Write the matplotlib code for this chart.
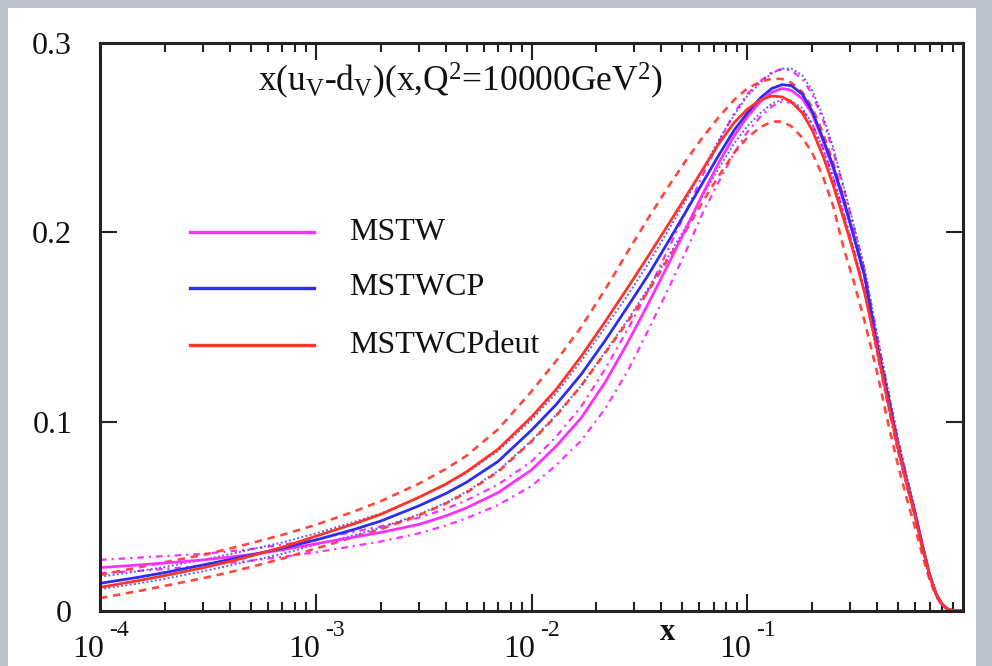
import matplotlib
matplotlib.use("Agg")
import matplotlib.pyplot as plt
from matplotlib.ticker import LogLocator, FixedLocator, NullFormatter

plt.rcParams['font.family'] = ['Liberation Serif', 'DejaVu Serif']
plt.rcParams['mathtext.fontset'] = 'custom'
plt.rcParams['mathtext.rm'] = 'Liberation Serif'
plt.rcParams['mathtext.it'] = 'Liberation Serif:italic'

# x grid shared by all curves
x = [1e-4, 1.5e-4, 2e-4, 3e-4, 4e-4, 5e-4, 7e-4,
     1e-3, 1.5e-3, 2e-3, 3e-3, 4e-3, 5e-3, 7e-3,
     1e-2, 1.3e-2, 1.7e-2, 2.2e-2, 2.8e-2, 3.5e-2, 4.3e-2, 5.2e-2, 6.2e-2, 7.4e-2, 8.7e-2,
     0.1, 0.115, 0.13, 0.145, 0.16, 0.18, 0.2, 0.225, 0.25, 0.28, 0.31, 0.35, 0.4, 0.45,
     0.5, 0.55, 0.6, 0.65, 0.7, 0.75, 0.8, 0.85, 0.9, 0.95, 1.0]

# MSTW: central value and error band edges
mstw = [0.0229, 0.0243, 0.0253, 0.0270, 0.0285, 0.0298, 0.0323,
        0.0355, 0.0390, 0.0415, 0.0457, 0.0502, 0.0545, 0.0625,
        0.0745, 0.0870, 0.1020, 0.1210, 0.1420, 0.1630, 0.1830, 0.2020, 0.2200, 0.2370, 0.2510,
        0.2610, 0.2690, 0.2740, 0.2760, 0.2750, 0.2705, 0.2625, 0.2480, 0.2340, 0.2160, 0.1990, 0.1770, 0.1400, 0.1130,
        0.0870, 0.0680, 0.0510, 0.0340, 0.0190, 0.0090, 0.0035, 0.0010, 0.0002, 0.0, 0.0]
mstw_hi = [0.0270, 0.0282, 0.0290, 0.0302, 0.0315, 0.0327, 0.0350,
           0.0380, 0.0418, 0.0447, 0.0493, 0.0539, 0.0585, 0.0668,
           0.0790, 0.0920, 0.1080, 0.1280, 0.1490, 0.1700, 0.1910, 0.2110, 0.2300, 0.2480, 0.2630,
           0.2730, 0.2800, 0.2845, 0.2862, 0.2855, 0.2810, 0.2730, 0.2590, 0.2430, 0.2230, 0.2040, 0.1800, 0.1450, 0.1160,
           0.0900, 0.0700, 0.0525, 0.0345, 0.0198, 0.0093, 0.0036, 0.0010, 0.0002, 0.0, 0.0]
mstw_lo = [0.0200, 0.0212, 0.0222, 0.0240, 0.0254, 0.0266, 0.0286,
           0.0310, 0.0343, 0.0367, 0.0410, 0.0451, 0.0490, 0.0560,
           0.0660, 0.0770, 0.0900, 0.1070, 0.1270, 0.1490, 0.1700, 0.1900, 0.2100, 0.2270, 0.2420,
           0.2530, 0.2610, 0.2665, 0.2690, 0.2685, 0.2645, 0.2570, 0.2440, 0.2290, 0.2100, 0.1920, 0.1690, 0.1360, 0.1080,
           0.0840, 0.0655, 0.0490, 0.0320, 0.0180, 0.0085, 0.0032, 0.0009, 0.0002, 0.0, 0.0]

# MSTWCP: central value and error band edges
cp = [0.0146, 0.0178, 0.0203, 0.0243, 0.0272, 0.0295, 0.0332,
      0.0375, 0.0430, 0.0475, 0.0555, 0.0620, 0.0680, 0.0790,
      0.0955, 0.1090, 0.1250, 0.1430, 0.1610, 0.1780, 0.1950, 0.2110, 0.2260, 0.2410, 0.2540,
      0.2630, 0.2710, 0.2760, 0.2780, 0.2775, 0.2730, 0.2640, 0.2490, 0.2350, 0.2170, 0.1990, 0.1770, 0.1400, 0.1130,
      0.0870, 0.0680, 0.0510, 0.0340, 0.0190, 0.0090, 0.0035, 0.0010, 0.0002, 0.0, 0.0]
cp_hi = [0.0180, 0.0210, 0.0233, 0.0270, 0.0300, 0.0325, 0.0362,
         0.0410, 0.0470, 0.0515, 0.0600, 0.0668, 0.0730, 0.0845,
         0.1010, 0.1150, 0.1320, 0.1500, 0.1670, 0.1840, 0.2010, 0.2170, 0.2330, 0.2490, 0.2620,
         0.2720, 0.2790, 0.2840, 0.2865, 0.2865, 0.2830, 0.2750, 0.2610, 0.2450, 0.2240, 0.2050, 0.1810, 0.1460, 0.1170,
         0.0910, 0.0710, 0.0535, 0.0350, 0.0200, 0.0095, 0.0037, 0.0011, 0.0002, 0.0, 0.0]
cp_lo = [0.0115, 0.0145, 0.0170, 0.0210, 0.0240, 0.0265, 0.0302,
         0.0350, 0.0400, 0.0440, 0.0510, 0.0572, 0.0630, 0.0740,
         0.0900, 0.1035, 0.1190, 0.1370, 0.1540, 0.1710, 0.1870, 0.2030, 0.2190, 0.2340, 0.2470,
         0.2560, 0.2630, 0.2680, 0.2700, 0.2695, 0.2655, 0.2575, 0.2440, 0.2290, 0.2100, 0.1920, 0.1690, 0.1360, 0.1080,
         0.0840, 0.0655, 0.0490, 0.0320, 0.0180, 0.0085, 0.0032, 0.0009, 0.0002, 0.0, 0.0]

# MSTWCPdeut: central value and error band edges
deut = [0.0125, 0.0160, 0.0187, 0.0228, 0.0262, 0.0290, 0.0337,
        0.0395, 0.0460, 0.0510, 0.0600, 0.0670, 0.0735, 0.0855,
        0.1025, 0.1170, 0.1345, 0.1530, 0.1710, 0.1880, 0.2040, 0.2190, 0.2330, 0.2470, 0.2580,
        0.2650, 0.2700, 0.2720, 0.2715, 0.2690, 0.2630, 0.2540, 0.2400, 0.2250, 0.2070, 0.1900, 0.1680, 0.1380, 0.1100,
        0.0860, 0.0670, 0.0500, 0.0330, 0.0190, 0.0090, 0.0035, 0.0010, 0.0002, 0.0, 0.0]
deut_hi = [0.0190, 0.0230, 0.0258, 0.0296, 0.0330, 0.0358, 0.0402,
           0.0455, 0.0525, 0.0580, 0.0672, 0.0750, 0.0820, 0.0960,
           0.1160, 0.1320, 0.1500, 0.1700, 0.1900, 0.2080, 0.2240, 0.2380, 0.2500, 0.2610, 0.2700,
           0.2760, 0.2795, 0.2812, 0.2810, 0.2790, 0.2740, 0.2660, 0.2520, 0.2370, 0.2180, 0.1990, 0.1760, 0.1420, 0.1130,
           0.0880, 0.0690, 0.0515, 0.0340, 0.0195, 0.0092, 0.0036, 0.0010, 0.0002, 0.0, 0.0]
deut_lo = [0.0068, 0.0105, 0.0133, 0.0173, 0.0205, 0.0232, 0.0277,
           0.0330, 0.0390, 0.0432, 0.0505, 0.0567, 0.0625, 0.0735,
           0.0895, 0.1030, 0.1190, 0.1365, 0.1530, 0.1695, 0.1860, 0.2010, 0.2160, 0.2300, 0.2420,
           0.2500, 0.2555, 0.2585, 0.2585, 0.2560, 0.2500, 0.2420, 0.2290, 0.2140, 0.1915, 0.1750, 0.1530, 0.1260, 0.0990,
           0.0770, 0.0590, 0.0440, 0.0290, 0.0165, 0.0078, 0.0030, 0.0008, 0.0001, 0.0, 0.0]

labels = ['MSTW', 'MSTWCP', 'MSTWCPdeut']
colors = ['#ff30ff', '#2c2cf2', '#ff3428']

x_ticks = [1e-4, 1e-3, 1e-2, 1e-1]
x_exponents = ['-4', '-3', '-2', '-1']
y_ticks = [0, 0.1, 0.2, 0.3]
y_ticklabels = ['0', '0.1', '0.2', '0.3']

W, H = 992, 666
fig = plt.figure(figsize=(W / 100, H / 100), dpi=100)
fig.patch.set_facecolor('#bcc3cc')

# white page behind the plot
page = fig.add_axes([8 / W, 0, (976 - 8) / W, (666 - 8) / H], zorder=-5)
page.set_facecolor('white')
page.set_xticks([])
page.set_yticks([])
for sp in page.spines.values():
    sp.set_visible(False)

ax = fig.add_axes([100 / W, (666 - 611) / H, 863 / W, 568 / H])
ax.set_facecolor('white')
ax.set_xscale('log')
ax.set_xlim(1e-4, 1.0)
ax.set_ylim(0, 0.3)

# error band edges
dashdot = (0, (3, 2.2, 1, 2.2))
ax.plot(x, mstw_hi, color=colors[0], lw=1.6, linestyle=dashdot)
ax.plot(x, mstw_lo, color=colors[0], lw=1.6, linestyle=dashdot)
ax.plot(x, cp_hi, color=colors[1], lw=1.4, alpha=0.75, linestyle=(0, (1, 1.2)))
ax.plot(x, cp_lo, color=colors[1], lw=1.4, alpha=0.75, linestyle=(0, (1, 1.2)))
ax.plot(x, deut_hi, color=colors[2], lw=1.9, alpha=0.9, linestyle=(0, (2.8, 2.2)))
ax.plot(x, deut_lo, color=colors[2], lw=1.9, alpha=0.9, linestyle=(0, (2.8, 2.2)))
# central values
ax.plot(x, mstw, color=colors[0], lw=2.0)
ax.plot(x, cp, color=colors[1], lw=2.0)
ax.plot(x, deut, color=colors[2], lw=2.0)

# legend
leg_y = [0.667, 0.569, 0.468]
for lab, col, yy in zip(labels, colors, leg_y):
    ax.plot([0.104, 0.248], [yy, yy], color=col, lw=2.4, transform=ax.transAxes)
    ax.text(0.2885, yy, lab, transform=ax.transAxes, fontsize=23,
            ha='left', va='center', color='#111111')

ax.text(0.418, 0.933,
        r'x(u$_{\mathrm{V}}$-d$_{\mathrm{V}}$)(x,Q$^{\mathrm{2}}$=10000GeV$^{\mathrm{2}}$)',
        transform=ax.transAxes, ha='center', va='center', fontsize=25.5, color='#111111')

ax.text(0.658, -0.037, 'x', transform=ax.transAxes, ha='center', va='center',
        fontsize=22, fontweight='bold', color='#111111')

# decade labels written as "10" with a raised exponent
ax.xaxis.set_major_locator(FixedLocator(x_ticks + [1.0]))
ax.xaxis.set_major_formatter(NullFormatter())
for t, e in zip(x_ticks, x_exponents):
    ax.annotate('10', xy=(t, 0), xycoords=('data', 'axes fraction'),
                xytext=(-12, -46), textcoords='offset pixels',
                ha='center', va='baseline', fontsize=23, color='#111111')
    ax.annotate(e, xy=(t, 0), xycoords=('data', 'axes fraction'),
                xytext=(9, -25), textcoords='offset pixels',
                ha='left', va='baseline', fontsize=17, color='#111111')
ax.xaxis.set_minor_locator(LogLocator(base=10, subs=range(2, 10), numticks=20))
ax.xaxis.set_minor_formatter(NullFormatter())
ax.set_yticks(y_ticks)
ax.set_yticklabels(y_ticklabels)

ax.tick_params(axis='both', which='both', direction='in', top=True, right=True,
               colors='#222222', labelcolor='#111111')
ax.tick_params(axis='both', which='major', length=12, width=1.5, labelsize=23)
ax.tick_params(axis='both', which='minor', length=6.5, width=1.5)
ax.tick_params(axis='y', which='major', pad=20)
for sp in ax.spines.values():
    sp.set_linewidth(2.2)
    sp.set_color('#222222')

fig.savefig('out.png', dpi=100, facecolor=fig.get_facecolor())
